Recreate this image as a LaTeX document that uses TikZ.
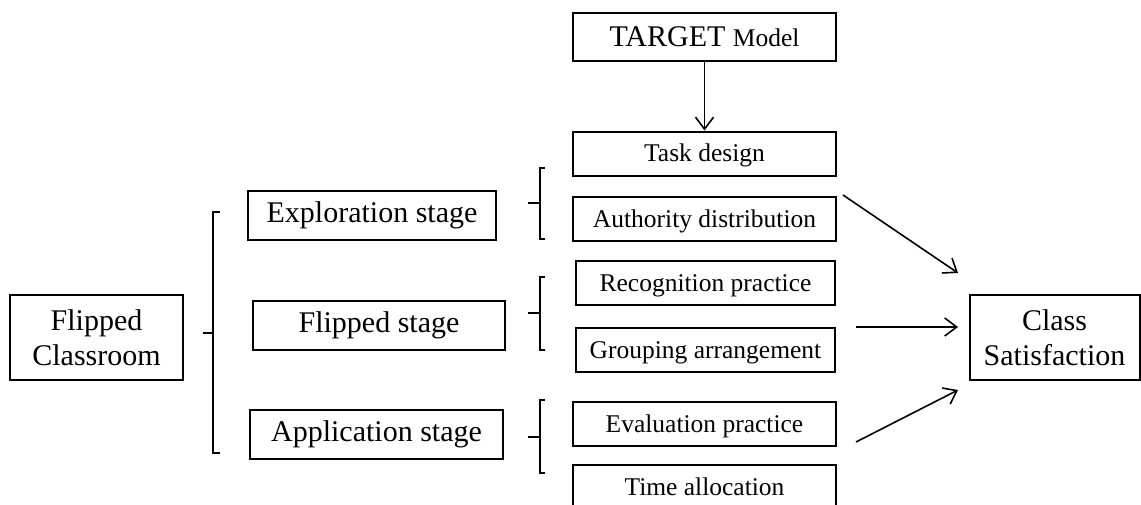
\documentclass[tikz,border=0pt]{standalone}
\usepackage{fontspec}
\setmainfont{Liberation Serif}
\usetikzlibrary{arrows.meta}
\newcommand{\bigtxt}{\fontsize{15}{17.5}\selectfont}
\newcommand{\smalltxt}{\fontsize{12.75}{14.5}\selectfont}

\begin{document}
\begin{tikzpicture}[x=0.5pt, y=-0.5pt, line width=1pt,
    >={Straight Barb[length=6pt,width=9pt]},
    box/.style={draw, inner sep=0pt, font=\bigtxt},
    sub/.style={box, minimum width=131.5pt, minimum height=22pt, font=\smalltxt,
      text height=0.9em, text depth=0.1em},
    stage/.style={box, minimum height=24.5pt},
    brace/.style={line width=0.8pt}]
    \useasboundingbox (0,0) rectangle (1141,504);

    % model and its tasks
    \node[box, minimum width=131.5pt, minimum height=24pt] (target) at (704.5, 37) {TARGET {\smalltxt Model}};
    \node[sub] (task) at (704.5, 153.5) {Task design};
    \node[sub] (auth) at (704.5, 219) {Authority distribution};
    \node[sub, minimum width=129.5pt] (recog) at (705.5, 283) {Recognition practice};
    \node[sub, minimum width=129.5pt] (group) at (705.5, 350) {Grouping arrangement};
    \node[sub] (eval) at (704.5, 424) {Evaluation practice};
    \node[sub] (time) at (704.5, 487) {Time allocation};

    % stages
    \node[stage, minimum width=124pt] (explo) at (372, 215.5) {Exploration stage};
    \node[stage, minimum width=126pt] (flip) at (379, 325.5) {Flipped stage};
    \node[stage, minimum width=126.5pt] (appl) at (376.5, 434) {Application stage};

    \node[box, align=center, minimum width=86.5pt, minimum height=42.5pt] (classroom) at (96.5, 337.5) {Flipped\\Classroom};
    \node[box, align=center, minimum width=85pt, minimum height=42.5pt] (satis) at (1054.5, 337.5) {Class\\Satisfaction};

    % brackets
    \draw[brace] (220,212) -- (213,212) -- (213,453) -- (220,453);
    \draw[brace] (203,333) -- (213,333);
    \draw[brace] (545,168) -- (540,168) -- (540,239) -- (545,239);
    \draw[brace] (528,203) -- (540,203);
    \draw[brace] (545,277) -- (540,277) -- (540,350) -- (545,350);
    \draw[brace] (528,313) -- (540,313);
    \draw[brace] (545,400) -- (540,400) -- (540,473) -- (545,473);
    \draw[brace] (528,437) -- (540,437);

    % arrows
    \coordinate (a1) at (843,195);
    \coordinate (a2) at (856,327);
    \coordinate (a3) at (856,442);
    \coordinate (s1) at (958,273);
    \coordinate (s2) at (958,327);
    \coordinate (s3) at (958,390);
    \draw[->, line width=0.8pt] (target) -- (task);
    \draw[->, line width=0.8pt] (a1) -- (s1);
    \draw[->, line width=0.8pt] (a2) -- (s2);
    \draw[->, line width=0.8pt] (a3) -- (s3);
\end{tikzpicture}
\end{document}
